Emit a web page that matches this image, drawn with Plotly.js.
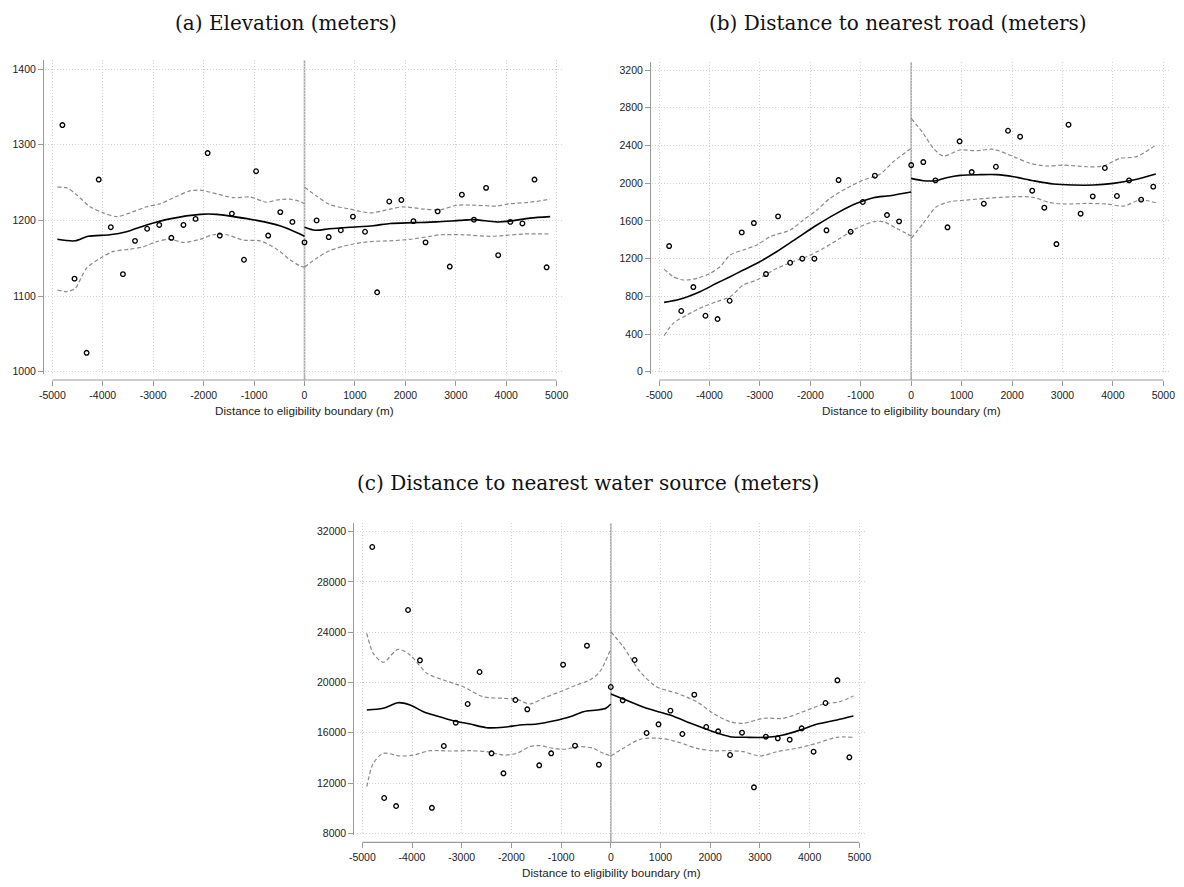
<!DOCTYPE html>
<html><head><meta charset="utf-8">
<script src="https://cdn.plot.ly/plotly-3.0.1.min.js"></script>
<style>html,body{margin:0;padding:0;background:#fff}#chart{width:1184px;height:887px}</style>
</head><body><div id="chart"></div>
<script>
// ---------- data ----------
const binX = [-4800,-4560,-4320,-4080,-3840,-3600,-3360,-3120,-2880,-2640,-2400,-2160,-1920,-1680,-1440,-1200,-960,-720,-480,-240,
  0,240,480,720,960,1200,1440,1680,1920,2160,2400,2640,2880,3120,3360,3600,3840,4080,4320,4560,4800];
const xTicks = [-5000,-4000,-3000,-2000,-1000,0,1000,2000,3000,4000,5000];

// (a) Elevation
const elevPts = [1326,1123,1025,1254,1191,1129,1173,1189,1194,1177,1194,1202,1289,1180,1209,1148,1265,1180,1211,1198,
  1171,1200,1178,1187,1205,1185,1105,1225,1227,1199,1171,1212,1139,1234,1201,1243,1154,1198,1196,1254,1138];
const elevTicks = [1000,1100,1200,1300,1400];
const elevFitLx = [-4900,-4550,-4290,-3860,-3530,-3130,-2670,-2070,-1740,-1410,-950,-490,-90,0];
const elevFitL  = [1175,1173,1179,1181,1185,1194,1202,1208,1208,1205,1200,1193,1182,1179];
const elevHiLx  = [-4900,-4710,-4520,-4250,-3990,-3720,-3460,-3130,-2860,-2530,-2270,-2070,-1740,-1410,-1080,-750,-550,-290,-90,0];
const elevHiL   = [1244,1243,1234,1218,1210,1205,1210,1218,1222,1232,1239,1240,1235,1230,1231,1224,1227,1228,1225,1222];
const elevLoLx  = [-4900,-4710,-4550,-4320,-4050,-3790,-3460,-3200,-2930,-2670,-2400,-2070,-1810,-1540,-1210,-880,-550,-290,-90,0];
const elevLoL   = [1108,1106,1110,1137,1150,1159,1162,1165,1172,1175,1171,1175,1181,1181,1174,1173,1162,1148,1140,1138];
const elevFitRx = [0,210,500,900,1360,1700,2160,2620,3080,3350,3810,4070,4470,4870];
const elevFitR  = [1191,1187,1189,1191,1193,1196,1197,1198,1200,1201,1198,1199,1203,1205];
const elevHiRx  = [0,240,500,900,1300,1700,1960,2360,2690,3020,3410,3810,4070,4470,4870];
const elevHiR   = [1244,1232,1221,1215,1210,1215,1218,1215,1214,1220,1220,1219,1222,1224,1228];
const elevLoRx  = [0,240,500,900,1300,1700,2090,2490,2690,3150,3680,3940,4340,4870];
const elevLoR   = [1138,1150,1160,1168,1172,1173,1175,1179,1181,1181,1179,1180,1182,1182];

// (b) Distance to nearest road
const roadPts = [1333,644,898,594,559,753,1478,1577,1036,1648,1156,1199,1199,1500,2033,1485,1800,2079,1662,1595,
  2192,2224,2030,1532,2444,2118,1782,2174,2556,2493,1920,1740,1354,2620,1676,1860,2161,1864,2030,1825,1963];
const roadTicks = [0,400,800,1200,1600,2000,2400,2800,3200];
const roadFitLx = [-4900,-4590,-4190,-3860,-3590,-3330,-3060,-2670,-2270,-1870,-1480,-1080,-750,-420,0];
const roadFitL  = [736,768,849,938,1008,1079,1150,1273,1415,1556,1680,1786,1846,1867,1906];
const roadHiLx  = [-4900,-4720,-4520,-4250,-3990,-3790,-3590,-3330,-3060,-2800,-2400,-2140,-1870,-1610,-1280,-950,-620,-355,0];
const roadHiL   = [1089,1008,973,990,1043,1114,1238,1291,1344,1432,1503,1609,1715,1839,1945,2033,2095,2227,2370];
const roadLoLx  = [-4900,-4720,-4450,-4120,-3860,-3590,-3330,-3060,-2730,-2400,-2070,-1740,-1410,-1080,-750,-550,-290,0];
const roadLoL   = [382,513,601,690,743,796,920,973,1079,1156,1220,1309,1415,1521,1591,1591,1521,1439];
const roadFitRx = [0,240,480,700,970,1360,1700,2030,2420,2820,3210,3610,4010,4400,4850];
const roadFitR  = [2051,2026,2026,2058,2083,2090,2090,2068,2026,1991,1980,1980,1998,2033,2097];
const roadHiRx  = [0,240,440,640,970,1300,1630,2030,2360,2690,3020,3480,3810,4140,4470,4850];
const roadHiR   = [2688,2528,2370,2288,2352,2344,2359,2281,2210,2182,2192,2174,2182,2263,2281,2405];
const roadLoRx  = [0,240,500,770,1100,1500,2030,2420,2750,3080,3480,3880,4210,4540,4850];
const roadLoR   = [1415,1574,1750,1803,1821,1839,1856,1850,1793,1779,1785,1779,1757,1821,1793];

// (c) Distance to nearest water source
const waterPts = [30782,10809,10170,25770,21766,10030,14947,16801,18289,20836,14366,12774,18607,17867,13411,14366,21416,14971,22928,13459,
  19642,18583,21790,15981,16673,17758,15902,19031,16459,16117,14231,16005,11660,15687,15559,15448,16355,14493,18368,20175,14047];
const waterTicks = [8000,12000,16000,20000,24000,28000,32000];
const waterFitLx = [-4910,-4580,-4280,-4040,-3770,-3500,-3170,-2830,-2500,-2160,-1830,-1490,-1160,-820,-550,-280,-100,0];
const waterFitL  = [17812,17947,18392,18209,17676,17334,16961,16697,16404,16435,16618,16697,16936,17278,17676,17812,17950,18289];
const waterHiLx  = [-4910,-4780,-4580,-4280,-4040,-3700,-3370,-2970,-2570,-2160,-1890,-1630,-1360,-1020,-690,-420,-220,0];
const waterHiL   = [23915,22323,21607,22642,22188,20732,20199,19666,18870,18742,18663,18289,18742,19268,19800,20200,20860,22700];
const waterLoLx  = [-4910,-4780,-4580,-4240,-3970,-3640,-3240,-2830,-2500,-2160,-1890,-1630,-1430,-1160,-960,-620,-350,-220,0];
const waterLoL   = [11708,13570,14366,14151,14231,14573,14549,14573,14493,14231,14366,14891,14971,14764,14685,14891,14764,14493,14151];
const waterFitRx = [0,250,720,1190,1660,2060,2400,2730,3140,3470,3810,4140,4550,4880];
const waterFitR  = [19085,18687,17947,17413,16673,16085,15687,15639,15639,15822,16220,16673,17016,17334];
const waterHiRx  = [0,250,590,920,1330,1730,2060,2400,2670,3070,3470,3870,4280,4610,4880];
const waterHiR   = [24043,22849,20859,19666,19140,18472,17549,16880,16753,17151,17151,17676,18289,18472,18925];
const waterLoRx  = [0,250,590,990,1330,1730,2060,2400,2670,3000,3340,3740,4140,4550,4880];
const waterLoR   = [14151,14764,15480,15559,15289,14764,14573,14573,14493,14151,14493,14764,15161,15639,15639];

const titles = ['(a) Elevation (meters)', '(b) Distance to nearest road (meters)', '(c) Distance to nearest water source (meters)'];
const xTitle = 'Distance to eligibility boundary (m)';

// ---------- layout geometry (pixels) ----------
const W = 1184, H = 887;
const fx = p => p / W, fy = p => 1 - p / H;
const panels = [
  {id:'', pts:elevPts, ticks:elevTicks,
   lines:[[elevFitLx,elevFitL,0],[elevHiLx,elevHiL,1],[elevLoLx,elevLoL,1],[elevFitRx,elevFitR,0],[elevHiRx,elevHiR,1],[elevLoRx,elevLoR,1]],
   xdom:[45,563], ydom:[60,374], xr:[-5145,5125], yr:[997,1412], yAxisPx:43, xAxisPx:380,
   tx:286, ty:23, lx:304, ly:410},
  {id:'2', pts:roadPts, ticks:roadTicks,
   lines:[[roadFitLx,roadFitL,0],[roadHiLx,roadHiL,1],[roadLoLx,roadLoL,1],[roadFitRx,roadFitR,0],[roadHiRx,roadHiR,1],[roadLoRx,roadLoR,1]],
   xdom:[652,1170], ydom:[62,374], xr:[-5140,5132], yr:[-24,3285], yAxisPx:650, xAxisPx:380,
   tx:898, ty:23, lx:911, ly:410},
  {id:'3', pts:waterPts, ticks:waterTicks,
   lines:[[waterFitLx,waterFitL,0],[waterHiLx,waterHiL,1],[waterLoLx,waterLoL,1],[waterFitRx,waterFitR,0],[waterHiRx,waterHiR,1],[waterLoRx,waterLoR,1]],
   xdom:[356.7,867.3], ydom:[523.3,835], xr:[-5113,5161], yr:[7865,32668], yAxisPx:353.3, xAxisPx:842.3,
   tx:588, ty:483, lx:611, ly:872}
];

const tickFont = {family:'Liberation Sans, Arial, sans-serif', size:10.5, color:'#222'};
const axisGrey = '#9a9a9a';
const gridStyle = {showgrid:true, gridcolor:'#d2d2d2', griddash:'1px,2px', gridwidth:1};
const traces = [], shapes = [], annotations = [];
const layout = {
  width:W, height:H, margin:{l:0,r:0,t:0,b:0}, paper_bgcolor:'#fff', plot_bgcolor:'#fff',
  showlegend:false, font:{family:'Liberation Sans, Arial, sans-serif', color:'#222'}
};

panels.forEach((p, idx) => {
  const xa = 'x' + p.id, ya = 'y' + p.id;
  p.lines.forEach(([lx, ly, dashed]) => {
    traces.push({type:'scatter', mode:'lines', x:lx, y:ly, xaxis:xa, yaxis:ya, hoverinfo:'skip',
      line: dashed ? {color:'#8a8a8a', width:1.2, dash:'4px,2.5px', shape:'spline', smoothing:0.8}
                   : {color:'#000', width:1.6, shape:'spline', smoothing:0.8}});
  });
  traces.push({type:'scatter', mode:'markers', x:binX, y:p.pts, xaxis:xa, yaxis:ya, cliponaxis:false,
    marker:{symbol:'circle-open', size:4.6, color:'#000', line:{width:1.3, color:'#000'}}});

  const xdomain = [fx(p.xdom[0]), fx(p.xdom[1])];
  layout['xaxis' + p.id] = Object.assign({
    domain:xdomain, range:p.xr, anchor:'free', position:fy(p.xAxisPx),
    tickmode:'array', tickvals:xTicks, ticktext:xTicks.map(String), ticks:'outside', ticklen:5, tickwidth:1, tickcolor:axisGrey,
    showline:false, zeroline:false, tickfont:tickFont, fixedrange:true
  }, gridStyle);
  layout['yaxis' + p.id] = Object.assign({
    domain:[fy(p.ydom[1]), fy(p.ydom[0])], range:p.yr, anchor:'free', position:fx(p.yAxisPx), side:'left',
    tickmode:'array', tickvals:p.ticks, ticktext:p.ticks.map(String), ticks:'outside', ticklen:5, tickwidth:1, tickcolor:axisGrey,
    showline:true, linecolor:axisGrey, linewidth:1, zeroline:false, tickfont:tickFont, fixedrange:true
  }, gridStyle);
  // x axis line from first to last tick (converted through the axis range to the x domain)
  const toDom = v => (v - p.xr[0]) / (p.xr[1] - p.xr[0]);
  shapes.push({type:'line', xref:xa + ' domain', yref:'paper', x0:toDom(xTicks[0]), x1:toDom(xTicks[xTicks.length-1]),
    y0:fy(p.xAxisPx), y1:fy(p.xAxisPx), line:{color:axisGrey, width:1.2}, layer:'above'});
  // vertical line at the boundary
  shapes.push({type:'line', xref:xa, yref:'paper', x0:0, x1:0,
    y0:fy(p.xAxisPx), y1:fy(p.ydom[0]), line:{color:'#adadad', width:1.6}, layer:'below'});

  annotations.push({xref:'paper', yref:'paper', x:fx(p.tx), y:fy(p.ty), xanchor:'center', yanchor:'middle', showarrow:false,
    text:titles[idx], font:{family:'DejaVu Serif, Liberation Serif, serif', size:20, color:'#111'}});
  annotations.push({xref:'paper', yref:'paper', x:fx(p.lx), y:fy(p.ly), xanchor:'center', yanchor:'middle', showarrow:false,
    text:xTitle, font:{family:'Liberation Sans, Arial, sans-serif', size:11.7, color:'#222'}});
});
layout.shapes = shapes;
layout.annotations = annotations;

Plotly.newPlot('chart', traces, layout, {displayModeBar:false, staticPlot:true});
</script></body></html>
